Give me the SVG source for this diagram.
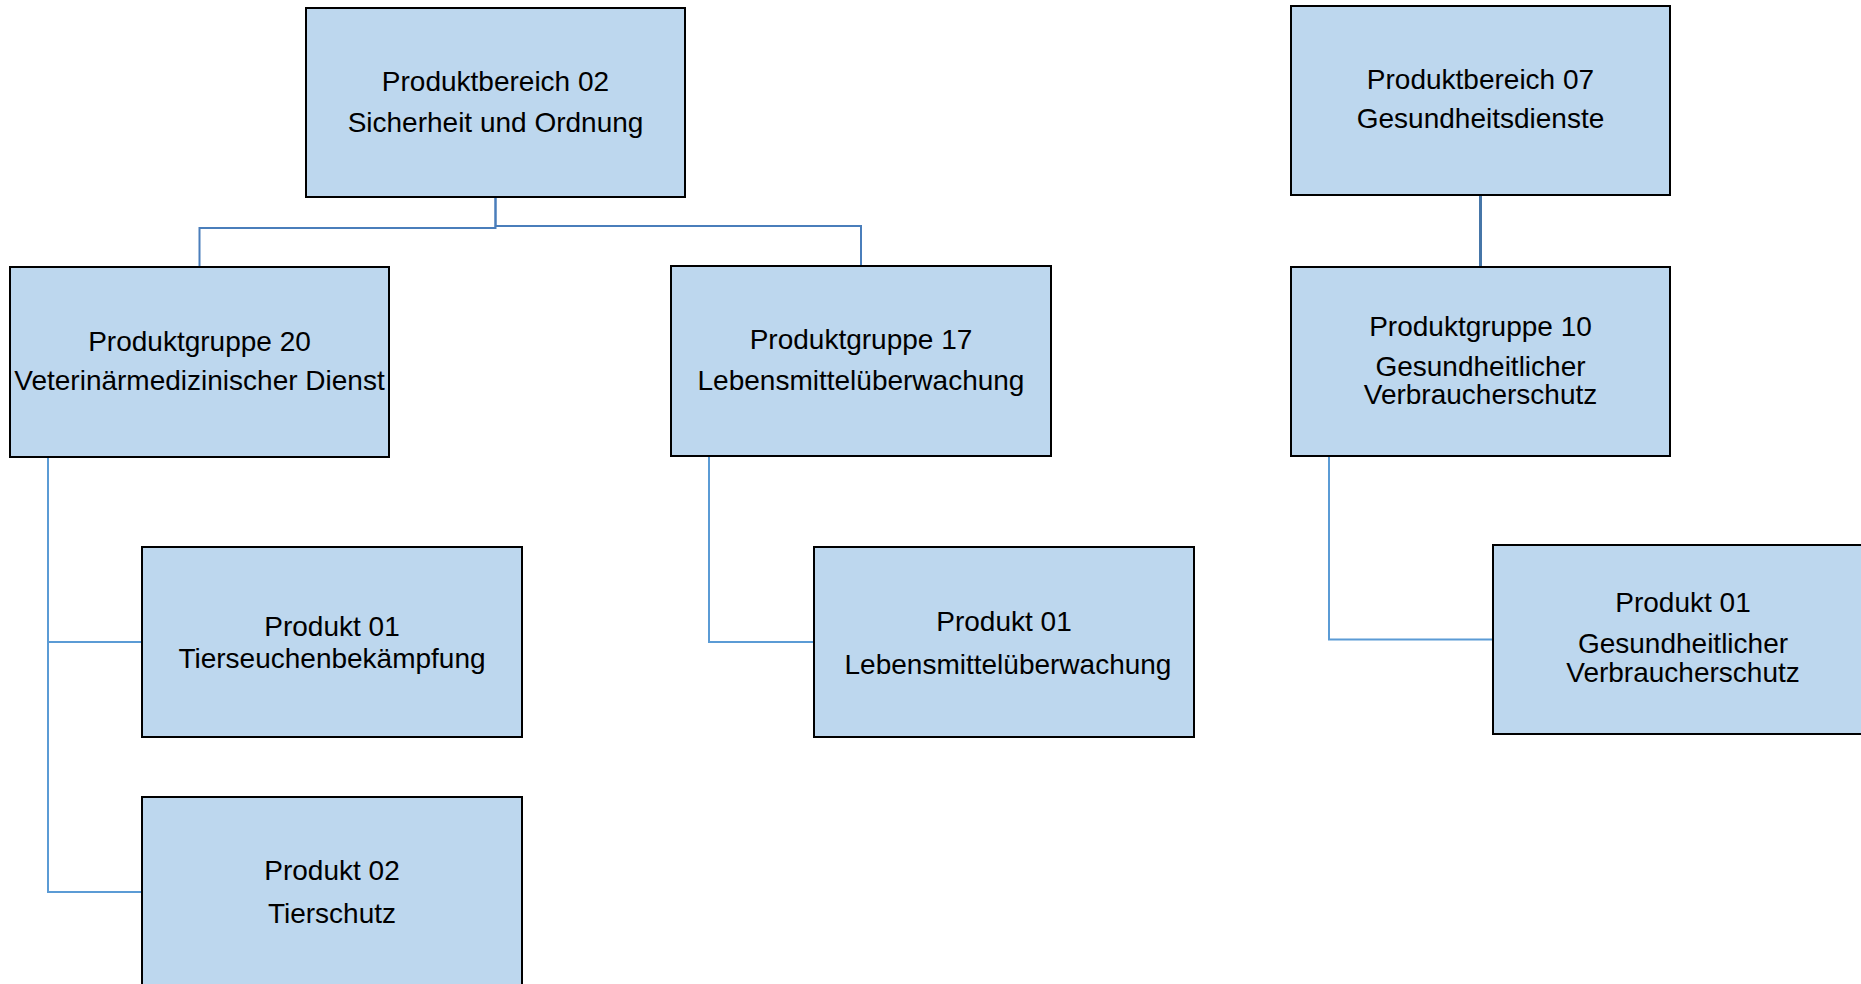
<svg xmlns="http://www.w3.org/2000/svg" width="1861" height="984" viewBox="0 0 1861 984">
<style>
.box{fill:#bdd7ee;stroke:#000;stroke-width:2}
.t{font-family:"Liberation Sans",Arial,sans-serif;font-size:28px;fill:#000;text-anchor:middle}
.e{fill:none;stroke-width:2}
.e1{stroke:#4a7ebb}
.e2{stroke:#4676a8;stroke-width:3}
.e3{stroke:#5b9bd5}
</style>
<rect width="1861" height="984" fill="#fff"/>
<g id="connectors">
<path class="e e1" d="M495.5,197 V228 H199.5 V267"/>
<path class="e e1" d="M495.5,197 V226 H861 V266"/>
<path class="e e3" d="M48,457 V642 H142"/>
<path class="e e3" d="M48,457 V892 H142"/>
<path class="e e3" d="M709,456 V642 H814"/>
<path class="e e2" d="M1480.5,195 V267"/>
<path class="e e3" d="M1329,456 V639.5 H1493"/>
</g>
<g id="pb02">
<rect class="box" x="306" y="8" width="379" height="189"/>
<text class="t" x="495.5" y="91">Produktbereich 02</text>
<text class="t" x="495.5" y="132">Sicherheit und Ordnung</text>
</g>
<g id="pg20">
<rect class="box" x="10" y="267" width="379" height="190"/>
<text class="t" x="199.5" y="351">Produktgruppe 20</text>
<text class="t" x="199.5" y="390">Veterinärmedizinischer Dienst</text>
</g>
<g id="pg17">
<rect class="box" x="671" y="266" width="380" height="190"/>
<text class="t" x="861" y="349">Produktgruppe 17</text>
<text class="t" x="861" y="390">Lebensmittelüberwachung</text>
</g>
<g id="p01-tierseuchen">
<rect class="box" x="142" y="547" width="380" height="190"/>
<text class="t" x="332" y="636">Produkt 01</text>
<text class="t" x="332" y="668">Tierseuchenbekämpfung</text>
</g>
<g id="p02-tierschutz">
<rect class="box" x="142" y="797" width="380" height="190"/>
<text class="t" x="332" y="880">Produkt 02</text>
<text class="t" x="332" y="923">Tierschutz</text>
</g>
<g id="p01-lebensmittel">
<rect class="box" x="814" y="547" width="380" height="190"/>
<text class="t" x="1004" y="631">Produkt 01</text>
<text class="t" x="1008" y="674">Lebensmittelüberwachung</text>
</g>
<g id="pb07">
<rect class="box" x="1291" y="6" width="379" height="189"/>
<text class="t" x="1480.5" y="89">Produktbereich 07</text>
<text class="t" x="1480.5" y="128">Gesundheitsdienste</text>
</g>
<g id="pg10">
<rect class="box" x="1291" y="267" width="379" height="189"/>
<text class="t" x="1480.5" y="336">Produktgruppe 10</text>
<text class="t" x="1480.5" y="376">Gesundheitlicher</text>
<text class="t" x="1480.5" y="404">Verbraucherschutz</text>
</g>
<g id="p01-gesundheit">
<rect class="box" x="1493" y="545" width="380" height="189"/>
<text class="t" x="1683" y="612">Produkt 01</text>
<text class="t" x="1683" y="653">Gesundheitlicher</text>
<text class="t" x="1683" y="682">Verbraucherschutz</text>
</g>
</svg>
